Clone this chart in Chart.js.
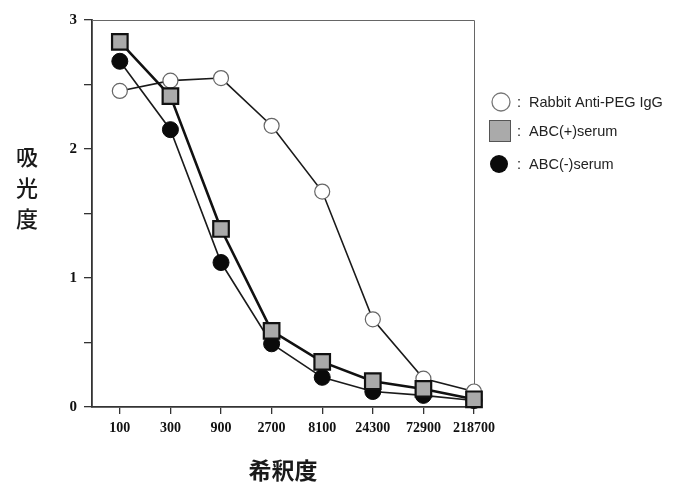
<!DOCTYPE html>
<html>
<head>
<meta charset="utf-8">
<script src="https://cdn.jsdelivr.net/npm/chart.js@4/dist/chart.umd.min.js"></script>
<style>
  html, body { margin: 0; padding: 0; background: #fff; }
  #wrap { width: 679px; height: 483px; }
</style>
</head>
<body>
<div id="wrap"><canvas id="c" width="679" height="483"></canvas></div>
<script>
// Dilution steps (x categories)
const dilutions = ['100', '300', '900', '2700', '8100', '24300', '72900', '218700'];
// Absorbance per dilution
const rabbitIgG = [2.45, 2.53, 2.55, 2.18, 1.67, 0.68, 0.22, 0.12];
const abcPlus   = [2.83, 2.41, 1.38, 0.59, 0.35, 0.20, 0.14, 0.06];
const abcMinus  = [2.68, 2.15, 1.12, 0.49, 0.23, 0.12, 0.09, 0.05];
const seriesNames = ['Rabbit Anti-PEG IgG', 'ABC(+)serum', 'ABC(-)serum'];
const yTitle = ['吸', '光', '度'];
const xTitle = '希釈度';

const toPoints = arr => arr.map((v, i) => ({ x: i, y: v }));

const frame = {
  id: 'frame',
  beforeDraw(chart) {
    const ctx = chart.ctx;
    ctx.save();
    ctx.fillStyle = '#fff';
    ctx.fillRect(0, 0, chart.width, chart.height);
    ctx.restore();
  },
  beforeDatasetsDraw(chart) {
    const { ctx, chartArea: a } = chart;
    ctx.save();
    ctx.strokeStyle = '#666';
    ctx.lineWidth = 1;
    ctx.beginPath();
    ctx.moveTo(a.left, a.top + 0.5);
    ctx.lineTo(a.right + 0.5, a.top + 0.5);
    ctx.lineTo(a.right + 0.5, a.bottom);
    ctx.stroke();
    ctx.restore();
  },
  afterDraw(chart) {
    const { ctx, chartArea: a } = chart;
    ctx.save();
    // vertical axis title, one character per line
    ctx.fillStyle = '#1a1a1a';
    ctx.font = '500 22px "Noto Sans CJK JP"';
    ctx.textAlign = 'center';
    ctx.textBaseline = 'middle';
    yTitle.forEach((ch, i) => ctx.fillText(ch, 27, 157 + i * 31));
    // horizontal axis title
    ctx.font = 'bold 23px "Noto Sans CJK JP"';
    ctx.fillText(xTitle, (a.left + a.right) / 2, 470);

    // legend
    const lx = 500, ly = [102, 131, 164];
    ctx.lineWidth = 1.3;
    ctx.strokeStyle = '#777';
    ctx.fillStyle = '#fff';
    ctx.beginPath();
    ctx.arc(lx + 1, ly[0], 9, 0, Math.PI * 2);
    ctx.fill();
    ctx.stroke();

    ctx.fillStyle = '#aaa';
    ctx.strokeStyle = '#555';
    ctx.lineWidth = 1;
    ctx.fillRect(lx - 11, ly[1] - 11, 22, 22);
    ctx.strokeRect(lx - 10.5, ly[1] - 10.5, 21, 21);

    ctx.fillStyle = '#0a0a0a';
    ctx.beginPath();
    ctx.arc(lx - 1, ly[2], 9, 0, Math.PI * 2);
    ctx.fill();

    ctx.fillStyle = '#222';
    ctx.font = '14.5px "Liberation Sans"';
    ctx.textAlign = 'left';
    seriesNames.forEach((n, i) => ctx.fillText(':  ' + n, 517, ly[i] + 1));
    ctx.restore();
  }
};

new Chart(document.getElementById('c'), {
  type: 'line',
  data: {
    datasets: [
      {
        label: seriesNames[0],
        data: toPoints(rabbitIgG),
        order: 1,
        borderColor: '#1a1a1a',
        borderWidth: 1.6,
        pointStyle: 'circle',
        pointRadius: 7.5,
        pointBackgroundColor: '#fff',
        pointBorderColor: '#666',
        pointBorderWidth: 1.2,
        tension: 0,
        clip: false
      },
      {
        label: seriesNames[1],
        data: toPoints(abcPlus),
        order: 0,
        borderColor: '#111',
        borderWidth: 2.6,
        pointStyle: 'rect',
        pointRadius: 11,
        pointBackgroundColor: '#aaa',
        pointBorderColor: '#111',
        pointBorderWidth: 2.2,
        tension: 0,
        clip: false
      },
      {
        label: seriesNames[2],
        data: toPoints(abcMinus),
        order: 2,
        borderColor: '#1a1a1a',
        borderWidth: 1.6,
        pointStyle: 'circle',
        pointRadius: 8,
        pointBackgroundColor: '#0a0a0a',
        pointBorderColor: '#0a0a0a',
        pointBorderWidth: 1,
        tension: 0,
        clip: false
      }
    ]
  },
  options: {
    responsive: false,
    animation: false,
    events: [],
    layout: { padding: { top: 20, right: 205, left: 0, bottom: 0 } },
    plugins: { legend: { display: false }, tooltip: { enabled: false } },
    scales: {
      x: {
        type: 'linear',
        min: -0.55,
        max: 7,
        afterBuildTicks(scale) {
          scale.ticks = dilutions.map((_, i) => ({ value: i }));
        },
        afterFit(scale) { scale.height = 76; },
        ticks: {
          autoSkip: false,
          maxRotation: 0,
          padding: 6,
          color: '#111',
          font: { family: '"Liberation Serif"', size: 14, weight: 'bold' },
          callback: v => dilutions[v]
        },
        grid: { drawOnChartArea: false, drawTicks: true, tickLength: 7, color: '#333', lineWidth: 1.3 },
        border: { display: true, color: '#333', width: 1.8 }
      },
      y: {
        min: 0,
        max: 3,
        afterFit(scale) { scale.width = 92; },
        ticks: {
          stepSize: 0.5,
          padding: 7,
          color: '#111',
          font: { family: '"Liberation Serif"', size: 15, weight: 'bold' },
          callback: v => (Number.isInteger(v) ? String(v) : '')
        },
        grid: { drawOnChartArea: false, drawTicks: true, tickLength: 8, color: '#333', lineWidth: 1.3 },
        border: { display: true, color: '#333', width: 1.8 }
      }
    }
  },
  plugins: [frame]
});
</script>
</body>
</html>
